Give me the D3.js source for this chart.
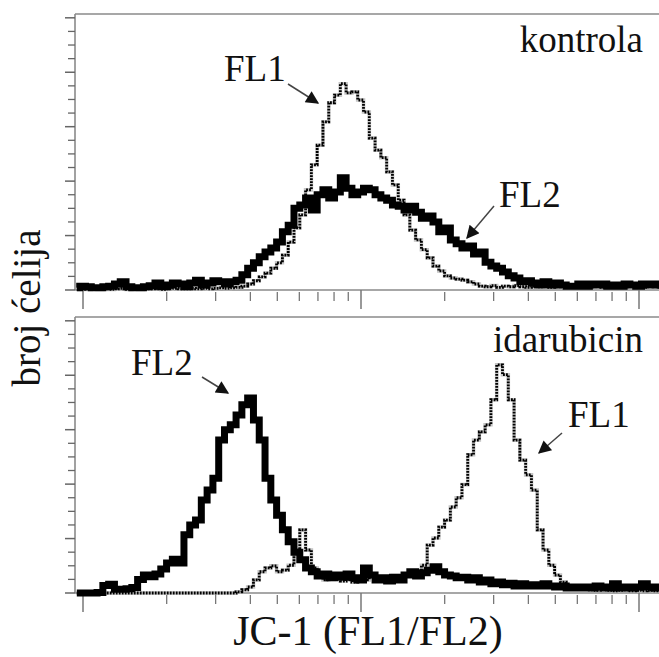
<!DOCTYPE html>
<html>
<head>
<meta charset="utf-8">
<script src="https://cdn.jsdelivr.net/npm/d3@7/dist/d3.min.js"></script>
<style>
  html, body { margin: 0; padding: 0; background: #fff; }
  #wrap { position: relative; width: 659px; height: 657px; overflow: hidden; }
  #fig { position: absolute; left: 0; top: 0; display: block; }
  .lbl { position: absolute; white-space: nowrap; font-family: 'Liberation Serif'; color: #111; margin: 0; padding: 0; }
</style>
</head>
<body>
<div id="wrap"><svg id="fig" width="659" height="657"></svg></div>
<script>
// ---- histogram channel definition (log-spaced, 48 channels per decade) ----
const channelStart = 0.95;
const channelsPerDecade = 48;

// ---- x axis ticks ----
const xMajorTicks = [1, 10, 100];
const xMinorTicks = [2,3,4,5,6,7,8,9,20,30,40,50,60,70,80,90,200];

// ---- y axis ticks (cell counts) ----
const yMajorTicks = [0, 100, 200, 300, 400, 500];
const yMinorTicks = [25,50,75,125,150,175,225,250,275,325,350,375,425,450,475];

// ---- panel names ----
const panelNames = ["kontrola", "idarubicin"];

// ---- counts per channel ----
const kontrolaFL2 = [4,7,6,4,4,6,7,11,15,6,4,4,6,8,13,6,9,13,11,6,13,18,9,13,17,15,11,15,
  18,28,40,50,61,70,77,88,107,119,150,156,169,147,175,184,169,180,206,187,175,180,187,184,175,169,165,156,154,147,154,143,
  132,136,125,107,114,92,85,77,81,66,70,51,44,40,33,26,22,15,17,13,9,15,9,13,9,7,7,11,7,11,9,11,7,9,7,11,9,7,11,9,11,9];
const kontrolaFL1 = [1,2,1,2,1,2,1,2,3,1,2,1,2,2,3,1,2,3,2,2,3,2,3,2,3,4,3,4,
  5,7,11,17,24,31,40,50,64,88,114,138,184,230,266,309,344,358,379,362,364,349,327,279,257,243,217,193,165,138,110,92,
  74,59,44,35,26,22,20,18,15,11,7,6,8,5,7,6,8,6,5,7,6,8,5,6,7,5,6,8,5,6,7,5,6,7,5,6,8,6,5,7,6,5];
const idarubicinFL2 = [0,0,0,0,1,14,16,7,7,8,10,25,33,30,35,44,55,62,55,107,125,134,171,189,211,281,300,309,
  327,346,358,318,281,211,171,143,116,94,75,61,46,39,31,35,28,33,29,35,28,24,46,33,24,28,22,29,24,33,39,31,
  37,42,48,39,33,31,28,29,24,28,20,24,17,20,15,18,13,17,13,15,13,17,13,11,13,9,11,9,11,9,13,11,9,17,9,11,9,11,17,11,9,11];
const idarubicinFL1 = [0,0,0,0,0,0,0,0,0,0,0,0,0,0,0,0,0,0,0,0,0,0,0,0,0,0,0,0,
  2,6,11,24,39,46,50,39,42,51,79,116,79,46,33,24,25,30,22,28,20,26,24,30,22,28,26,32,30,35,40,39,
  51,88,101,121,134,158,175,199,254,281,296,309,355,419,401,355,281,244,217,189,116,79,51,33,20,13,10,8,7,6,5,6,5,4,5,6,4,5,4,5,4,5];

const panelSeries = [
  { fl1: kontrolaFL1, fl2: kontrolaFL2 },
  { fl1: idarubicinFL1, fl2: idarubicinFL2 }
];

const seriesLabels = [
  [ { text: "FL1", tx: 224, ty: 81, ax1: 288, ay1: 84, ax2: 318, ay2: 103 },
    { text: "FL2", tx: 499, ty: 207, ax1: 494, ay1: 206, ax2: 467, ay2: 238 } ],
  [ { text: "FL2", tx: 131, ty: 375, ax1: 202, ay1: 377, ax2: 228, ay2: 393 },
    { text: "FL1", tx: 568, ty: 427, ax1: 562, ay1: 433, ax2: 539, ay2: 453 } ]
];

const panels = [ { top: 14, base: 290 }, { top: 317, base: 593 } ];
const plotLeft = 75, plotRight = 659;

const svg = d3.select("#fig");
const wrap = d3.select("#wrap");
const x = d3.scaleLog().domain([1, 100]).range([83, 639]);
const channelX = i => channelStart * Math.pow(10, i / channelsPerDecade);

// HTML text label placed by baseline; anchor: start | middle | end
const BASE = 0.8375; // baseline offset (em) for Liberation Serif with line-height 1
function label(t, bx, by, size, anchor, rotate) {
  const shift = anchor === "end" ? "-100%" : anchor === "middle" ? "-50%" : "0";
  const tf = (rotate ? "rotate(-90deg) " : "") + `translate(${shift}, ${-BASE}em)`;
  return wrap.append("div").attr("class", "lbl")
    .style("left", bx + "px").style("top", by + "px")
    .style("font-size", size + "px").style("line-height", "1")
    .style("transform-origin", "0 0")
    .style("transform", tf)
    .text(t);
}

const defs = svg.append("defs");
defs.append("marker")
  .attr("id", "arrowhead")
  .attr("viewBox", "0 0 10 10")
  .attr("refX", 9).attr("refY", 5)
  .attr("markerUnits", "userSpaceOnUse")
  .attr("markerWidth", 15).attr("markerHeight", 13)
  .attr("orient", "auto")
  .append("path").attr("d", "M0,0 L10,5 L0,10 Z").attr("fill", "#111");

const axisGray = "#8a8a8a";

panels.forEach((p, pi) => {
  const y = d3.scaleLinear().domain([0, 507]).range([p.base, p.top]);
  const g = svg.append("g");

  const clipId = "plotclip" + pi;
  defs.append("clipPath").attr("id", clipId)
    .append("rect").attr("x", plotLeft + 1).attr("y", p.top - 2)
    .attr("width", plotRight - plotLeft).attr("height", p.base - p.top + 6);

  g.append("line").attr("x1", plotLeft).attr("x2", plotRight)
    .attr("y1", p.top).attr("y2", p.top)
    .attr("stroke", axisGray).attr("stroke-width", 1.6);
  g.append("line").attr("x1", plotLeft).attr("x2", plotLeft)
    .attr("y1", p.top).attr("y2", p.base)
    .attr("stroke", axisGray).attr("stroke-width", 1.6);
  g.append("line").attr("x1", plotLeft).attr("x2", plotRight)
    .attr("y1", p.base).attr("y2", p.base)
    .attr("stroke", axisGray).attr("stroke-width", 1.4);

  g.selectAll(".ymaj").data(yMajorTicks).enter().append("line")
    .attr("x1", plotLeft - 10).attr("x2", plotLeft)
    .attr("y1", d => y(d)).attr("y2", d => y(d))
    .attr("stroke", "#666").attr("stroke-width", 1.5);
  g.selectAll(".ymin").data(yMinorTicks).enter().append("line")
    .attr("x1", plotLeft - 7).attr("x2", plotLeft)
    .attr("y1", d => y(d)).attr("y2", d => y(d))
    .attr("stroke", "#666").attr("stroke-width", 1.3);

  g.selectAll(".xmaj").data(xMajorTicks).enter().append("line")
    .attr("x1", d => x(d)).attr("x2", d => x(d))
    .attr("y1", p.base).attr("y2", p.base + 19)
    .attr("stroke", "#777").attr("stroke-width", 1.5);
  g.selectAll(".xmin").data(xMinorTicks.filter(d => x(d) < plotRight)).enter().append("line")
    .attr("x1", d => x(d)).attr("x2", d => x(d))
    .attr("y1", p.base + 2).attr("y2", p.base + 11)
    .attr("stroke", "#777").attr("stroke-width", 1.3);

  const series = panelSeries[pi];
  const line = d3.line()
    .x((d, i) => x(channelX(i)))
    .y(d => y(d))
    .curve(d3.curveStep);

  const dg = g.append("g").attr("clip-path", `url(#${clipId})`);
  dg.append("path").attr("d", line(series.fl1))
    .attr("fill", "none").attr("stroke", "#c4c4c4").attr("stroke-width", 3.6);
  dg.append("path").attr("d", line(series.fl1))
    .attr("fill", "none").attr("stroke", "#000").attr("stroke-width", 2.8)
    .attr("stroke-dasharray", "1.8,1.2");
  dg.append("path").attr("d", line(series.fl2))
    .attr("fill", "none").attr("stroke", "#000").attr("stroke-width", 7)
    .attr("stroke-linejoin", "miter");

  label(panelNames[pi], 643, pi === 0 ? 52 : 352, 37, "end");

  seriesLabels[pi].forEach(l => {
    label(l.text, l.tx, l.ty, 37, "start");
    g.append("line").attr("x1", l.ax1).attr("y1", l.ay1)
      .attr("x2", l.ax2).attr("y2", l.ay2)
      .attr("stroke", "#444").attr("stroke-width", 1.5)
      .attr("marker-end", "url(#arrowhead)");
  });
});

label("broj ćelija", 40, 308, 39, "middle", true);
label("JC-1 (FL1/FL2)", 368, 645, 42, "middle");
</script>
</body>
</html>
